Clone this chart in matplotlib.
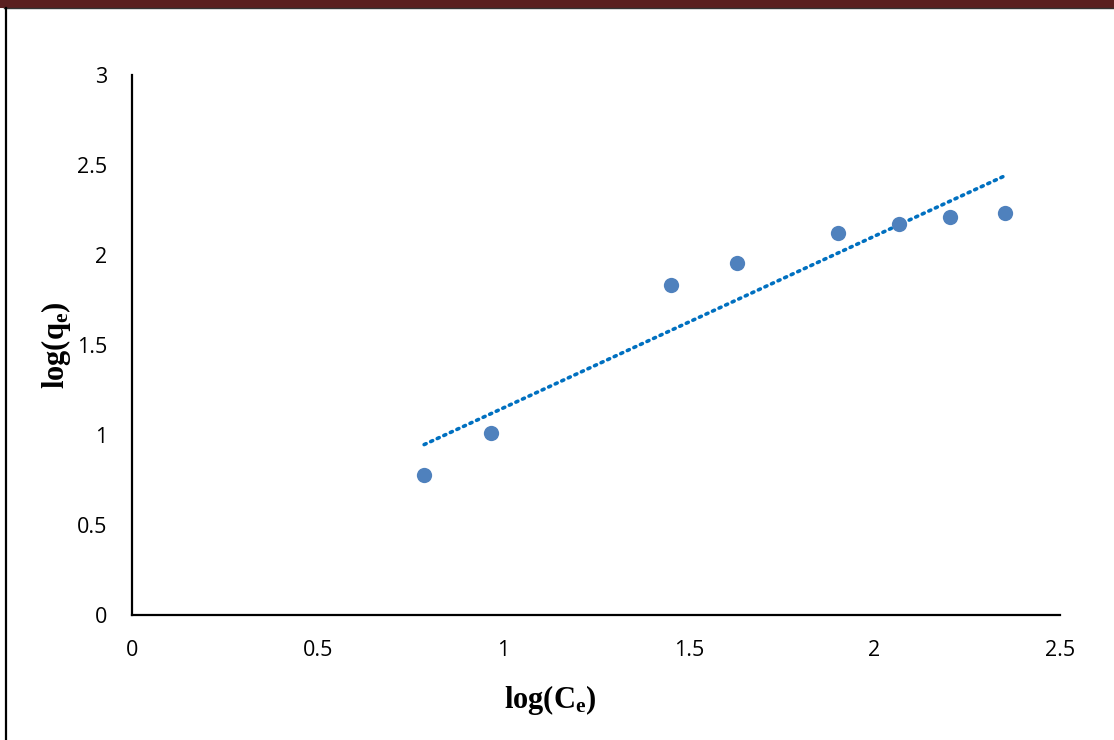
import matplotlib.pyplot as plt
import numpy as np
from matplotlib.lines import Line2D

plt.rcParams['mathtext.fontset'] = 'custom'
plt.rcParams['mathtext.rm'] = 'Liberation Serif:bold'
plt.rcParams['mathtext.it'] = 'Liberation Serif:bold'
plt.rcParams['mathtext.bf'] = 'Liberation Serif:bold'

# Freundlich isotherm, linear form
log_ce = [0.787, 0.967, 1.452, 1.630, 1.902, 2.066, 2.204, 2.352]
log_qe = [0.778, 1.011, 1.833, 1.956, 2.122, 2.172, 2.211, 2.233]
x_ticks = [0, 0.5, 1, 1.5, 2, 2.5]
y_ticks = [0, 0.5, 1, 1.5, 2, 2.5, 3]

fig = plt.figure(figsize=(11.14, 7.4), dpi=100)
ax = fig.add_axes([0.1185, 0.169, 0.833, 0.7296])

x = np.array(log_ce)
y = np.array(log_qe)
slope, intercept = np.polyfit(x, y, 1)
xs = np.array([x.min(), x.max()])
ax.plot(xs, slope * xs + intercept, color='#0070C0', linestyle=(0, (0.6, 1.4)),
        linewidth=2.6, dash_capstyle='round', zorder=2)
ax.plot(x, y, linestyle='none', marker='o', markersize=11, color='#4F81BD',
        markeredgewidth=0, zorder=3)

ax.set_xlim(0, 2.5)
ax.set_ylim(0, 3)
ax.set_xticks(x_ticks)
ax.set_yticks(y_ticks)
ax.set_xticklabels(['0', '0.5', '1', '1.5', '2', '2.5'])
ax.set_yticklabels(['0', '0.5', '1', '1.5', '2', '2.5', '3'])
ax.tick_params(length=0, labelsize=15.5, colors='black')
ax.tick_params(axis='x', pad=18)
ax.tick_params(axis='y', pad=18)
for lbl in ax.get_xticklabels() + ax.get_yticklabels():
    lbl.set_fontfamily('Open Sans')
for side in ['top', 'right']:
    ax.spines[side].set_visible(False)
for side in ['left', 'bottom']:
    ax.spines[side].set_linewidth(1.6)
    ax.spines[side].set_color('black')

fig.text(0.494, 0.054, r'$\mathrm{log(C_e)}$', fontsize=22, ha='center', va='center')
fig.text(0.050, 0.534, r'$\mathrm{log(q_e)}$', fontsize=22, ha='center', va='center',
         rotation=90)

# page border: dark red rule across the top, black rule on the left
fig.add_artist(Line2D([0, 0.998], [0.9945, 0.9945], color='#5A1F1F', linewidth=5.8,
                      transform=fig.transFigure))
fig.add_artist(Line2D([0.004, 1.0], [0.9887, 0.9887], color='#333333', linewidth=1.0,
                      transform=fig.transFigure))
fig.add_artist(Line2D([0.0058, 0.0058], [0, 0.989], color='black', linewidth=1.6,
                      transform=fig.transFigure))

fig.savefig('out.png', dpi=100)
